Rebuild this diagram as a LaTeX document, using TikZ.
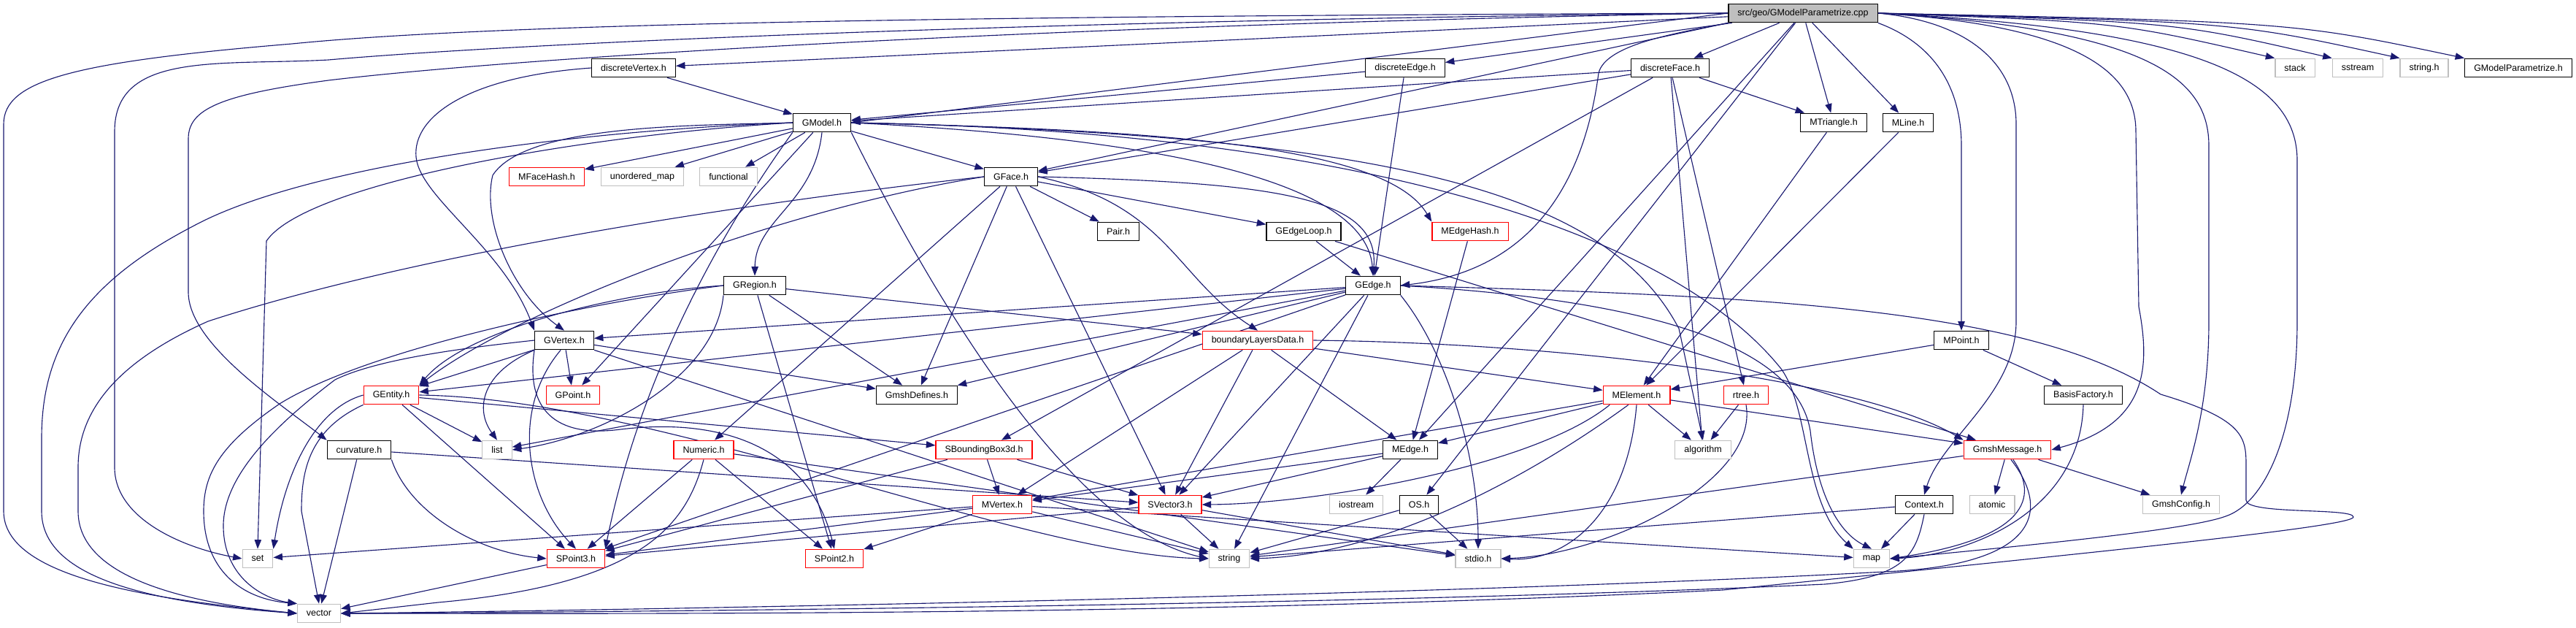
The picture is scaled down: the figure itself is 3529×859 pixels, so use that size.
\documentclass[tikz,border=0pt]{standalone}
\usepackage{fontspec}
\setmainfont{Liberation Sans}
\usetikzlibrary{arrows.meta,backgrounds}

\definecolor{edgeblue}{HTML}{191970}
\definecolor{sysgray}{HTML}{BFBFBF}
\definecolor{incred}{HTML}{FF0000}

\begin{document}
\begin{tikzpicture}[x=0.8pt,y=-0.8pt,
  hdr/.style={draw=black,line width=1pt,fill=white,inner xsep=10pt,inner ysep=0pt,
    minimum height=20.4pt,font=\fontsize{10}{12}\selectfont},
  redhdr/.style={hdr,draw=incred},
  syshdr/.style={hdr,draw=sysgray},
  dep/.style={draw=edgeblue,line width=0.9pt,-{Triangle[length=10pt,width=7.5pt]}}]
\useasboundingbox (0,0) rectangle (3529,859);
% headers
\node[hdr,fill=sysgray] (R) at (2470,18) {src/geo/GModelParametrize.cpp};
\foreach \n/\x/\y/\lbl in {dV/868/93/discreteVertex.h, dE/1925/93/discreteEdge.h,
    dF/2288/93/discreteFace.h, GMP/3450/93/GModelParametrize.h, GM/1126/168/GModel.h,
    MT/2512/168/MTriangle.h, ML/2614/168/MLine.h, GF/1385/242/GFace.h, Pair/1532/317/Pair.h,
    GEL/1786/317/GEdgeLoop.h, GR/1034/391/GRegion.h, GE/1881/391/GEdge.h, GV/773/466/GVertex.h,
    MP/2687/466/MPoint.h, GDef/1256/541/GmshDefines.h, BF/2854/541/BasisFactory.h,
    curv/492/616/curvature.h, MEd/1932/616/MEdge.h, OS/1944/691/OS.h, Ctx/2636/691/Context.h}
  \node[hdr] (\n) at (\x,\y) {\lbl};
\foreach \n/\x/\y/\lbl in {MFH/749/242/MFaceHash.h, MEH/2014/317/MEdgeHash.h,
    bLD/1723/466/boundaryLayersData.h, GEnt/536/541/GEntity.h, GP/785/541/GPoint.h,
    MEl/2242/541/MElement.h, rtree/2392/541/rtree.h, Num/964/616/Numeric.h,
    SBB/1348/616/SBoundingBox3d.h, GMsg/2750/616/GmshMessage.h, MV/1373/691/MVertex.h,
    SV3/1603/691/SVector3.h, SP3/789/765/SPoint3.h, SP2/1143/765/SPoint2.h}
  \node[redhdr] (\n) at (\x,\y) {\lbl};
\foreach \n/\x/\y/\lbl in {stack/3144/93/stack, sstream/3230/93/sstream, strh/3321/93/string.h,
    umap/880/242/unordered\_map, func/998/242/functional, list/681/616/list,
    algo/2333/616/algorithm, iostream/1858/691/iostream, atomic/2729/691/atomic,
    GC/2988/691/GmshConfig.h, set/353/765/set, str/1684/765/string, stdio/2025/765/stdio.h,
    map/2564/765/map, vec/437/840/vector}
  \node[syshdr] (\n) at (\x,\y) {\lbl};

\begin{scope}[on background layer]
% plain includes
\foreach \a/\b in {R/dV, R/dE, R/dF, R/MT, R/ML, R/MEd, R/OS,
    dV/GM, dE/GM, dE/GE, dF/GM, dF/GF, dF/MT, dF/rtree, dF/algo, dF/SBB,
    GM/GF, GM/GP, GM/MFH, GM/umap, GM/func,
    GF/GEL, GF/Pair, GF/Num, GF/SV3, GF/GDef, GEL/GE, GEL/GMsg, MEH/MEd,
    GR/GDef, GR/bLD, GR/SP2,
    GE/GEnt, GE/GV, GE/GDef, GE/SV3, GE/list, GE/str, GE/SP3,
    GV/GEnt, GV/GP, GV/GDef, GV/str, GEnt/list, GEnt/SP3, GEnt/SBB,
    bLD/MEl, bLD/MEd, bLD/SV3, bLD/MV, MEd/MV, MEd/SV3, MEd/iostream,
    MEl/MEd, MEl/MV, MEl/algo, MEl/GMsg, MV/SP3, MV/SP2, MV/set, MV/str, MV/map,
    SV3/SP3, SV3/str, SV3/stdio, SBB/SP3, SBB/SV3, SBB/MV, Num/SP3, Num/SP2, Num/stdio,
    SP3/vec, curv/vec, curv/SV3, OS/str, OS/stdio, Ctx/str, Ctx/map,
    MT/MEl, ML/MEl, MP/MEl, MP/BF, GMsg/str, GMsg/atomic, GMsg/GC, rtree/algo}
  \draw[dep] (\a) -- (\b);
% routed from the source file
\foreach \b/\c in {stack/2900, sstream/2980, strh/3060, GMP/3140}
  \draw[dep] (R.east) .. controls (\c,30) .. (\b.north west);
\draw[dep] (R.west) -- (GM.east);
\draw[dep] (R.south west) -- (GF);
\draw[dep] (R.south west) .. controls (2300,45) and (2200,60) .. (2190,100)
  .. controls (2170,250) and (2100,370) .. (GE.east);
\draw[dep] (R.south east) .. controls (2650,60) and (2687,120) .. (2687,200) -- (MP.north);
\draw[dep] (R.east) .. controls (2700,30) and (2762,90) .. (2762,170) -- (2762,440)
  .. controls (2762,540) and (2660,600) .. (Ctx.north);
\draw[dep] (R.east) .. controls (2850,35) and (2926,100) .. (2926,180) -- (2930,420)
  .. controls (2945,500) and (2945,580) .. (GMsg.east);
\draw[dep] (R.east) .. controls (2950,40) and (3026,110) .. (3026,200) -- (3026,440)
  .. controls (3026,560) and (3000,630) .. (GC.north);
\draw[dep] (R.east) .. controls (3020,40) and (3147,110) .. (3147,220) -- (3147,440)
  .. controls (3147,600) and (3100,690) .. (3049,707) .. controls (3000,725) and (2800,745) .. (map.east);
\draw[dep] (R.west) .. controls (1400,22) and (700,30) .. (400,60)
  .. controls (100,85) and (5,110) .. (5,170) -- (5,700) .. controls (5,790) and (200,820) .. (vec.west);
\draw[dep] (R.west) .. controls (1400,28) and (700,60) .. (450,82)
  .. controls (300,90) and (157,70) .. (157,180) -- (157,640) .. controls (157,710) and (250,750) .. (set.west);
\draw[dep] (R.west) .. controls (1400,35) and (700,80) .. (450,110)
  .. controls (300,130) and (258,150) .. (258,190) -- (258,400) .. controls (258,470) and (380,550) .. (curv.north west);
% second level
\draw[dep] (dV.west) .. controls (640,105) and (565,160) .. (570,215)
  .. controls (575,270) and (690,340) .. (GV.north west);
\draw[dep] (GM.west) .. controls (950,172) and (720,170) .. (675,240)
  .. controls (660,300) and (700,400) .. (GV.north);
\draw[dep] (GM.west) .. controls (800,185) and (420,250) .. (365,330) -- (set.north);
\draw[dep] (GM.west) .. controls (800,178) and (420,225) .. (264,310)
  .. controls (110,390) and (57,480) .. (57,600) -- (57,700) .. controls (57,790) and (200,825) .. (vec.west);
\draw[dep] (GM.south) .. controls (1115,280) and (1035,300) .. (GR.north);
\draw[dep] (GM.east) .. controls (1500,185) and (1870,230) .. (GE.north);
\draw[dep] (GM.east) .. controls (1600,178) and (1900,200) .. (MEH.north west);
\draw[dep] (GM.east) .. controls (1900,185) and (2200,260) .. (2300,450) -- (algo.north);
\draw[dep] (GM.east) .. controls (1900,180) and (2300,330) .. (2440,505)
  .. controls (2480,560) and (2470,690) .. (map.north west);
\draw[dep] (GM.south west) .. controls (1000,300) and (880,500) .. (SP3.north east);
\draw[dep] (GM.south east) .. controls (1250,350) and (1450,720) .. (str.west);
\draw[dep] (GF.west) .. controls (1000,280) and (560,350) .. (285,440)
  .. controls (150,500) and (107,570) .. (107,640) -- (107,700) .. controls (107,790) and (250,825) .. (vec.west);
\draw[dep] (GF.west) .. controls (1050,290) and (700,430) .. (GEnt.north east);
\draw[dep] (GF.east) .. controls (1750,250) and (1890,270) .. (GE.north);
\draw[dep] (GF.east) .. controls (1600,280) and (1610,380) .. (bLD.north);
\draw[dep] (GR.west) .. controls (800,415) and (500,480) .. (383,553)
  .. controls (300,610) and (279,650) .. (279,700) .. controls (279,780) and (330,820) .. (vec.north west);
\draw[dep] (GR.west) .. controls (850,400) and (640,450) .. (GEnt.north east);
\draw[dep] (GR.south west) .. controls (980,520) and (820,600) .. (list.east);
\draw[dep] (GE.east) .. controls (2400,405) and (2780,420) .. (2960,540)
  .. controls (3077,575) and (3077,600) .. (3077,640) -- (3077,685)
  .. controls (3077,705) and (3224,695) .. (3224,708) .. controls (3224,720) and (2940,750) .. (2360,808)
  .. controls (1600,845) and (800,840) .. (vec.east);
\draw[dep] (GE.east) .. controls (2250,410) and (2460,470) .. (2480,590)
  .. controls (2490,680) and (2520,730) .. (map.north);
\draw[dep] (GE.south east) .. controls (1980,480) and (2025,620) .. (stdio.north);
\draw[dep] (GV.west) .. controls (650,475) and (520,490) .. (459,520)
  .. controls (380,580) and (306,650) .. (306,720) .. controls (306,790) and (360,820) .. (vec.north west);
\draw[dep] (GV.south west) .. controls (660,510) and (650,560) .. (list.north);
\draw[dep] (GV.250) .. controls (700,560) and (720,680) .. (SP3.north);
\draw[dep] (GV.south west) .. controls (720,560) and (760,600) .. (850,588)
  .. controls (1000,570) and (1110,620) .. (SP2.north);
\draw[dep] (GEnt.south west) .. controls (420,590) and (413,650) .. (413,700) -- (vec.north);
\draw[dep] (GEnt.west) .. controls (430,560) and (390,650) .. (set.north east);
\draw[dep] (GEnt.east) .. controls (900,545) and (1400,760) .. (str.west);
\draw[dep] (curv.south east) .. controls (560,700) and (650,755) .. (SP3.west);
\draw[dep] (Num.south) .. controls (940,720) and (880,800) .. (600,825) -- (vec.east);
\draw[dep] (bLD.east) .. controls (2150,470) and (2550,520) .. (GMsg.north west);
\draw[dep] (MEl.south) .. controls (2230,700) and (2150,770) .. (stdio.east);
\draw[dep] (MEl.200) .. controls (2100,640) and (1800,690) .. (SV3.east);
\draw[dep] (MEl.230) .. controls (2100,650) and (1900,760) .. (str.east);
\draw[dep] (rtree.south) .. controls (2410,660) and (2200,760) .. (stdio.east);
\draw[dep] (BF.south) .. controls (2850,700) and (2700,760) .. (map.east);
\draw[dep] (GMsg.300) .. controls (2800,690) and (2760,740) .. (map.east);
\draw[dep] (GMsg.290) .. controls (2810,700) and (2790,770) .. (2600,782)
  .. controls (2000,815) and (900,835) .. (vec.east);
\draw[dep] (Ctx.south) .. controls (2625,760) and (2610,790) .. (2500,800)
  .. controls (1900,828) and (900,838) .. (vec.east);
\end{scope}
\end{tikzpicture}
\end{document}
